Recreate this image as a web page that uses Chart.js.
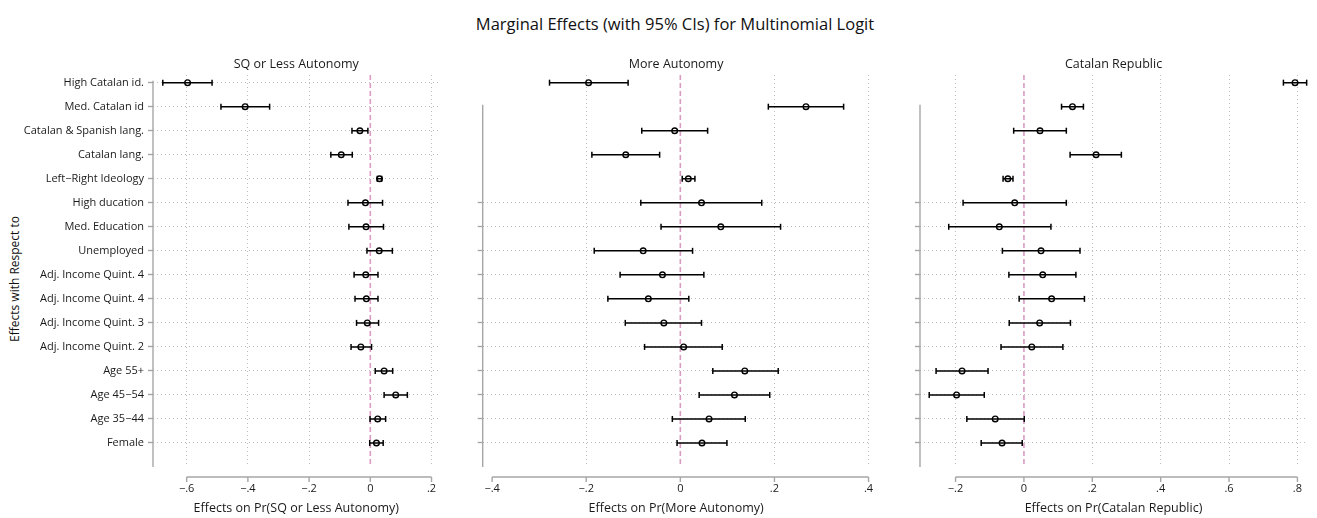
<!DOCTYPE html>
<html>
<head>
<meta charset="utf-8">
<script src="https://cdn.jsdelivr.net/npm/chart.js@4"></script>
<style>
  html, body { margin: 0; padding: 0; background: #fff; }
  body { width: 1317px; height: 518px; position: relative; overflow: hidden; font-family: "Open Sans", Lato, sans-serif; }
  #mainTitle { position: absolute; top: 12px; left: 375px; width: 600px; text-align: center; font-size: 16.5px; color: #111; white-space: nowrap; }
  #yTitle { position: absolute; left: 14px; top: 279px; transform: translate(-50%, -50%) rotate(-90deg); font-size: 12px; color: #111; white-space: nowrap; }
  .panel { position: absolute; top: 0; height: 518px; }
</style>
</head>
<body>
<div id="mainTitle">Marginal Effects (with 95% CIs) for Multinomial Logit</div>
<div id="yTitle">Effects with Respect to</div>
<div class="panel" style="left:0;width:445px"><canvas id="c1"></canvas></div>
<div class="panel" style="left:445px;width:430px"><canvas id="c2"></canvas></div>
<div class="panel" style="left:875px;width:442px"><canvas id="c3"></canvas></div>
<script>
const categories = ["High Catalan id.", "Med. Catalan id", "Catalan & Spanish lang.", "Catalan lang.", "Left\u2212Right Ideology", "High ducation", "Med. Education", "Unemployed", "Adj. Income Quint. 4", "Adj. Income Quint. 4", "Adj. Income Quint. 3", "Adj. Income Quint. 2", "Age 55+", "Age 45\u221254", "Age 35\u221244", "Female"];

const sqEst = [-0.597, -0.409, -0.034, -0.095, 0.030, -0.016, -0.014, 0.029, -0.015, -0.013, -0.010, -0.031, 0.045, 0.083, 0.024, 0.020];
const sqLo  = [-0.678, -0.488, -0.060, -0.129, 0.023, -0.073, -0.070, -0.011, -0.053, -0.050, -0.045, -0.063, 0.016, 0.045, -0.001, -0.002];
const sqHi  = [-0.517, -0.329, -0.008, -0.059, 0.037, 0.040, 0.043, 0.072, 0.025, 0.025, 0.027, 0.004, 0.073, 0.121, 0.050, 0.042];

const moreEst = [-0.195, 0.267, -0.012, -0.116, 0.017, 0.045, 0.086, -0.079, -0.038, -0.068, -0.035, 0.007, 0.137, 0.115, 0.061, 0.046];
const moreLo  = [-0.278, 0.187, -0.082, -0.188, 0.004, -0.084, -0.041, -0.183, -0.128, -0.154, -0.117, -0.076, 0.069, 0.040, -0.017, -0.007];
const moreHi  = [-0.111, 0.347, 0.058, -0.044, 0.031, 0.173, 0.213, 0.026, 0.050, 0.018, 0.045, 0.089, 0.208, 0.190, 0.138, 0.099];

const repEst = [0.793, 0.142, 0.047, 0.211, -0.047, -0.027, -0.072, 0.050, 0.055, 0.081, 0.046, 0.023, -0.181, -0.197, -0.084, -0.064];
const repLo  = [0.759, 0.110, -0.030, 0.135, -0.061, -0.178, -0.220, -0.063, -0.044, -0.014, -0.043, -0.067, -0.257, -0.277, -0.167, -0.125];
const repHi  = [0.827, 0.174, 0.124, 0.285, -0.032, 0.124, 0.079, 0.164, 0.152, 0.177, 0.136, 0.114, -0.105, -0.116, 0.001, -0.005];

const sqTicks = [-0.6, -0.4, -0.2, 0, 0.2];
const moreTicks = [-0.4, -0.2, 0, 0.2, 0.4];
const repTicks = [-0.2, 0, 0.2, 0.4, 0.6, 0.8];

const panelTitles = ["SQ or Less Autonomy", "More Autonomy", "Catalan Republic"];
const axisTitles = ["Effects on Pr(SQ or Less Autonomy)", "Effects on Pr(More Autonomy)", "Effects on Pr(Catalan Republic)"];

const FONT = '"Open Sans", Lato, sans-serif';
const TXT = '#1a1a1a';
const AXIS = '#a6a6a6';
const GRID = '#bdbdbd';
const PINK = '#d89cc2';

function fmtTick(v) {
  if (Math.abs(v) < 1e-9) return '0';
  const s = Math.abs(v).toFixed(1).replace(/^0/, '');
  return (v < 0 ? '\u2212' : '') + s;
}

const stataPlugin = {
  id: 'stata',
  beforeDatasetsDraw(chart) {
    const {ctx, chartArea, scales} = chart;
    const x0 = scales.x.getPixelForValue(0);
    ctx.save();
    ctx.strokeStyle = PINK;
    ctx.lineWidth = 1.6;
    ctx.setLineDash([5, 3]);
    ctx.beginPath();
    ctx.moveTo(x0, chartArea.top);
    ctx.lineTo(x0, chartArea.bottom);
    ctx.stroke();
    ctx.restore();
  },
  afterDraw(chart, args, opts) {
    const {ctx, chartArea, scales} = chart;
    ctx.save();
    ctx.strokeStyle = AXIS;
    ctx.lineWidth = 1.4;
    const yTop = scales.y.getPixelForValue(opts.axisStart) - 2;
    ctx.beginPath();
    ctx.moveTo(chartArea.left, yTop);
    ctx.lineTo(chartArea.left, chartArea.bottom);
    ctx.stroke();
    const tk = scales.x.ticks;
    const yb = chartArea.bottom + 10;
    const xa = scales.x.getPixelForValue(tk[0].value);
    const xb = scales.x.getPixelForValue(tk[tk.length - 1].value);
    ctx.beginPath();
    ctx.moveTo(xa, yb);
    ctx.lineTo(xb, yb);
    tk.forEach(t => {
      const px = scales.x.getPixelForValue(t.value);
      ctx.moveTo(px, yb);
      ctx.lineTo(px, yb + 5);
    });
    ctx.stroke();
    ctx.restore();
  }
};

function makePanel(id, idx, est, lo, hi, xTicks, xMin, xMax, yWidth, rightPad, axisStart, tickStart) {
  const ciData = [];
  const capData = [];
  const ptData = [];
  for (let i = 0; i < categories.length; i++) {
    ciData.push({x: lo[i], y: i}, {x: hi[i], y: i}, {x: null, y: null});
    capData.push({x: lo[i], y: i}, {x: hi[i], y: i});
    ptData.push({x: est[i], y: i});
  }
  new Chart(document.getElementById(id), {
    type: 'scatter',
    data: {
      datasets: [
        { data: ciData, showLine: true, spanGaps: false, borderColor: '#000', borderWidth: 1.5, pointRadius: 0, pointHoverRadius: 0, clip: false },
        { data: capData, showLine: false, pointStyle: 'line', rotation: 90, pointRadius: 3, borderColor: '#000', borderWidth: 1.5, clip: false },
        { data: ptData, showLine: false, pointStyle: 'circle', pointRadius: 2.8, borderColor: '#000', backgroundColor: '#fff', borderWidth: 1.4, clip: false }
      ]
    },
    options: {
      responsive: true,
      maintainAspectRatio: false,
      animation: false,
      events: [],
      layout: { padding: { left: 0, right: rightPad, top: 0, bottom: 0 } },
      plugins: {
        legend: { display: false },
        tooltip: { enabled: false },
        title: {
          display: true, text: panelTitles[idx], fullSize: false,
          color: TXT, font: { family: FONT, size: 12.5, weight: 'normal', lineHeight: 1.2 },
          padding: { top: 57, bottom: 3 }
        },
        stata: { axisStart: axisStart }
      },
      scales: {
        x: {
          type: 'linear', min: xMin, max: xMax,
          afterBuildTicks: s => { s.ticks = xTicks.map(v => ({ value: v })); },
          afterFit: s => { s.height = 51; s.paddingLeft = 0; s.paddingRight = 0; },
          border: { display: false, dash: [1, 3] },
          grid: {
            drawTicks: true, tickLength: 14, tickColor: 'rgba(0,0,0,0)', tickBorderDash: [],
            lineWidth: 1,
            color: c => {
              const px = c.scale.getPixelForValue(c.tick.value);
              if (Math.abs(c.tick.value) < 1e-9) return 'rgba(0,0,0,0)';
              if (px - c.chart.chartArea.left < 15) return 'rgba(0,0,0,0)';
              return GRID;
            }
          },
          ticks: { padding: 1, maxRotation: 0, autoSkip: false, color: TXT, font: { family: FONT, size: 11 }, callback: v => fmtTick(v) },
          title: { display: true, text: axisTitles[idx], color: TXT, font: { family: FONT, size: 12.5, lineHeight: 1.2 }, padding: { top: 0, bottom: 2 } }
        },
        y: {
          type: 'linear', reverse: true, min: -0.32, max: 16.0,
          afterBuildTicks: s => {
            const t = [];
            for (let i = tickStart; i < categories.length; i++) t.push({ value: i });
            s.ticks = t;
          },
          afterFit: s => { s.width = yWidth; s.paddingTop = 0; s.paddingBottom = 0; },
          border: { display: false, dash: [1, 3] },
          grid: {
            drawTicks: true, tickLength: 5, color: GRID, lineWidth: 1,
            tickColor: AXIS, tickWidth: 1.4, tickBorderDash: []
          },
          ticks: {
            padding: 4, autoSkip: false, color: TXT, font: { family: FONT, size: 11 },
            callback: v => (idx === 0 ? categories[v] : '')
          }
        }
      }
    },
    plugins: [stataPlugin]
  });
}

makePanel('c1', 0, sqEst, sqLo, sqHi, sqTicks, -0.71, 0.226, 153, 5, 0, 0);
makePanel('c2', 1, moreEst, moreLo, moreHi, moreTicks, -0.42, 0.402, 37.7, 5, 1, 5);
makePanel('c3', 2, repEst, repLo, repHi, repTicks, -0.304, 0.828, 45, 10, 1, 5);
</script>
</body>
</html>
